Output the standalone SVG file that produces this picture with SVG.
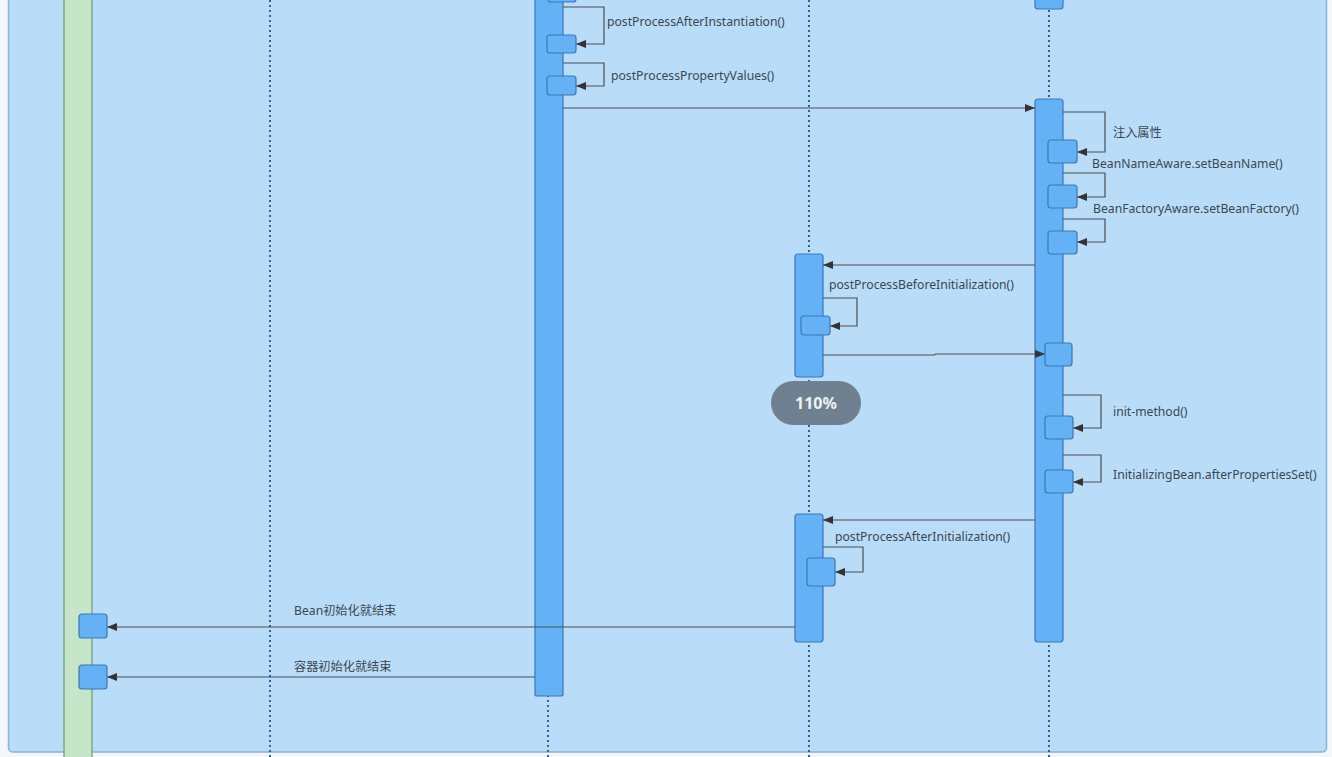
<svg xmlns="http://www.w3.org/2000/svg" width="1332" height="757" viewBox="0 0 1332 757">
<style>
.life{stroke:#2f5f9e;stroke-width:2;stroke-dasharray:2 3;fill:none}
.act{fill:#64b2f5;stroke:#3b78b8;stroke-width:1.2}
.box{fill:#64b2f5;stroke:#3b78b8;stroke-width:1.2}
.msg{stroke:#4a4f55;stroke-width:1.2;fill:none}
.lbl{font-family:"Noto Sans","Noto Sans CJK SC",sans-serif;font-size:12.2px;fill:#3c4650}
</style>
<defs>
<marker id="ah" viewBox="0 0 10 10" refX="10" refY="5" markerWidth="10" markerHeight="10" markerUnits="userSpaceOnUse" orient="auto">
<path d="M0,1 L10,5 L0,9 Z" fill="#333"/>
</marker>
</defs>
<rect x="0" y="0" width="1332" height="757" fill="#f4f7fa"/>
<rect id="panel" x="8.5" y="-10" width="1318" height="762" rx="4" fill="#b9ddf8" stroke="#86b3da" stroke-width="1.5"/>
<g id="lane-green"><rect x="64" y="-2" width="28" height="762" fill="#c6e5c9" stroke="#7eab82" stroke-width="1.5"/></g>
<g id="lifelines">
<line class="life" x1="270" y1="0" x2="270" y2="757"/>
<line class="life" x1="548" y1="0" x2="548" y2="757"/>
<line class="life" x1="809" y1="0" x2="809" y2="757"/>
<line class="life" x1="1049" y1="0" x2="1049" y2="757"/>
</g>
<g id="act-b"><rect class="act" x="535" y="-10" width="28" height="706" rx="2"/><rect class="box" x="548" y="-20" width="28" height="22" rx="3"/></g>
<g id="act-d-top"><rect class="box" x="1035" y="-20" width="28" height="29" rx="3"/></g>
<g id="act-d"><rect class="act" x="1035" y="99" width="28" height="543" rx="3"/></g>
<g id="act-c1"><rect class="act" x="795" y="254" width="28" height="123" rx="3"/></g>
<g id="act-c2"><rect class="act" x="795" y="514" width="28" height="128" rx="3"/></g>
<g id="connectors">
<path class="msg" d="M563,7 H604 V44 H576" marker-end="url(#ah)"/>
<path class="msg" d="M563,63 H604 V86 H576" marker-end="url(#ah)"/>
<path class="msg" d="M563,108 H1035" marker-end="url(#ah)"/>
<path class="msg" d="M1063,112 H1105 V152 H1077" marker-end="url(#ah)"/>
<path class="msg" d="M1063,173 H1105 V197 H1077" marker-end="url(#ah)"/>
<path class="msg" d="M1063,219 H1105 V242 H1077" marker-end="url(#ah)"/>
<path class="msg" d="M1035,265 H823" marker-end="url(#ah)"/>
<path class="msg" d="M823,298 H857 V326 H830" marker-end="url(#ah)"/>
<path class="msg" d="M823,355 H934 L936,354 H1045" marker-end="url(#ah)"/>
<path class="msg" d="M1063,395 H1101 V428 H1073" marker-end="url(#ah)"/>
<path class="msg" d="M1063,455 H1101 V482 H1073" marker-end="url(#ah)"/>
<path class="msg" d="M1035,520 H823" marker-end="url(#ah)"/>
<path class="msg" d="M823,547 H863 V572 H835" marker-end="url(#ah)"/>
<path class="msg" d="M795,627 H107" marker-end="url(#ah)"/>
<path class="msg" d="M535,677 H107" marker-end="url(#ah)"/>
</g>
<g id="boxes">
<rect class="box" x="547" y="35" width="29" height="18" rx="3"/>
<rect class="box" x="547" y="76" width="29" height="19" rx="3"/>
<rect class="box" x="1048" y="140" width="29" height="23" rx="3"/>
<rect class="box" x="1048" y="185" width="29" height="23" rx="3"/>
<rect class="box" x="1048" y="231" width="29" height="23" rx="3"/>
<rect class="box" x="801" y="316" width="29" height="19" rx="3"/>
<rect class="box" x="1045" y="343" width="27" height="23" rx="3"/>
<rect class="box" x="1045" y="416" width="28" height="23" rx="3"/>
<rect class="box" x="1045" y="470" width="28" height="23" rx="3"/>
<rect class="box" x="807" y="558" width="28" height="28" rx="3"/>
<rect class="box" x="79" y="614" width="28" height="24" rx="3"/>
<rect class="box" x="79" y="665" width="28" height="24" rx="3"/>
</g>
<g id="labels">
<text class="lbl" x="607" y="26">postProcessAfterInstantiation()</text>
<text class="lbl" x="611" y="80">postProcessPropertyValues()</text>
<text class="lbl" x="1113" y="137">注入属性</text>
<text class="lbl" x="1092" y="168">BeanNameAware.setBeanName()</text>
<text class="lbl" x="1093" y="213">BeanFactoryAware.setBeanFactory()</text>
<text class="lbl" x="829" y="289">postProcessBeforeInitialization()</text>
<text class="lbl" x="1113" y="416">init-method()</text>
<text class="lbl" x="1113" y="479">InitializingBean.afterPropertiesSet()</text>
<text class="lbl" x="835" y="541">postProcessAfterInitialization()</text>
<text class="lbl" x="294" y="615">Bean初始化就结束</text>
<text class="lbl" x="294" y="671">容器初始化就结束</text>
</g>
<g id="zoom-badge">
<rect x="771" y="381" width="90" height="44" rx="22" fill="#6f8190"/>
<text x="816" y="409" text-anchor="middle" font-family="'Noto Sans',sans-serif" font-size="16" font-weight="bold" fill="#eef2f5">110%</text>
</g>
</svg>
